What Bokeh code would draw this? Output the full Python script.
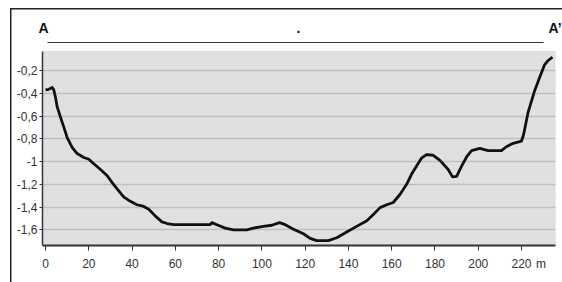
from bokeh.plotting import figure
from bokeh.models import Range1d, FixedTicker, BoxAnnotation, LinearAxis
from bokeh.embed import file_html
from bokeh.resources import INLINE

# Profile A - A' : distance (m) and elevation
dist = [0, 1.5, 3.1, 3.8, 4.6, 5.4, 6.9, 8.5, 10, 12.3,
        14.6, 17.7, 20, 22.3, 25.4, 28.5, 30.8, 33.1, 36.1, 39.2,
        42.3, 45.4, 47.7, 50.8, 53.8, 56.2, 59.2, 71.5, 76.1, 76.9,
        79.2, 83, 86.9, 93, 96.1, 100.7, 104.6, 108.1, 110.8, 114.6,
        119.2, 122.3, 125.4, 130.7, 134.6, 139.2, 143.8, 148.5, 151.5, 154.6,
        157.7, 160.7, 163.8, 166.9, 169.2, 171.5, 173.8, 176.1, 179.2, 182.3,
        186.1, 188.1, 190, 192.3, 194.6, 196.9, 200.7, 204.6, 210.7, 213,
        216.1, 220, 221, 223, 226.1, 228.4, 230.7, 232.3, 234.3]
elev = [-0.37, -0.365, -0.35, -0.37, -0.435, -0.52, -0.61, -0.70, -0.79, -0.875,
        -0.93, -0.965, -0.98, -1.02, -1.07, -1.125, -1.185, -1.24, -1.31, -1.35,
        -1.38, -1.395, -1.42, -1.48, -1.53, -1.545, -1.555, -1.555, -1.555, -1.537,
        -1.555, -1.585, -1.6, -1.6, -1.585, -1.57, -1.56, -1.537, -1.555, -1.595,
        -1.635, -1.675, -1.695, -1.695, -1.67, -1.62, -1.57, -1.52, -1.465, -1.405,
        -1.38, -1.36, -1.29, -1.20, -1.11, -1.04, -0.97, -0.94, -0.945, -0.99,
        -1.07, -1.135, -1.13, -1.04, -0.96, -0.905, -0.885, -0.905, -0.905, -0.87,
        -0.84, -0.82, -0.76, -0.57, -0.375, -0.26, -0.148, -0.112, -0.082]

x_ticks = [0, 20, 40, 60, 80, 100, 120, 140, 160, 180, 200, 220]
x_unit_pos = 229
x_unit_label = "m"
y_ticks = [-1.6, -1.4, -1.2, -1.0, -0.8, -0.6, -0.4, -0.2]
y_tick_labels = ["-1,6", "-1,4", "-1,2", "-1", "-0,8", "-0,6", "-0,4", "-0,2"]

# section end labels along the top line
sec_pos = [-0.92, 116.9, 235.5]
sec_labels = ["A", ".", "A’"]
sec_line = (0.92, 230.2)

x_lo, x_hi = -1.4, 235.7
y_lo, y_panel_top, y_hi = -1.738, -0.033, 0.046

FONT = "Liberation Sans"
INK = "#333333"

p = figure(width=562, height=282, output_backend="svg", toolbar_location=None,
           x_range=Range1d(x_lo, x_hi), y_range=Range1d(y_lo, y_hi),
           min_border_left=42, min_border_right=7, min_border_top=42, min_border_bottom=37)

p.border_fill_color = None
p.background_fill_color = None
p.outline_line_color = None
p.styles = {"background": "linear-gradient(#222,#222) 10px 8px / 1.5px 100% no-repeat, "
                          "linear-gradient(#222,#222) 10px 8px / 100% 1.5px no-repeat, white"}

# grey plotting panel
p.add_layout(BoxAnnotation(top=y_panel_top, fill_color="#e0e0e0", fill_alpha=1,
                           line_color="#a8a8a8", line_width=1, level="image"))

p.xgrid.grid_line_color = None
p.ygrid.grid_line_color = "#a0a0a0"
p.ygrid.grid_line_width = 1.5
p.ygrid.grid_line_dash = "1 1"

p.xaxis.ticker = FixedTicker(ticks=x_ticks + [x_unit_pos], minor_ticks=x_ticks)
p.xaxis.major_label_overrides = {x_unit_pos: x_unit_label}
p.yaxis.ticker = FixedTicker(ticks=y_ticks)
p.yaxis.major_label_overrides = {t: l for t, l in zip(y_ticks, y_tick_labels)}
p.yaxis.bounds = (y_lo, y_panel_top)

for ax in (p.xaxis[0], p.yaxis[0]):
    ax.axis_line_color = INK
    ax.major_label_text_font = FONT
    ax.major_label_text_font_size = "12px"
    ax.major_label_text_color = INK

p.xaxis.axis_line_width = 2
p.xaxis.major_tick_line_color = None
p.xaxis.minor_tick_line_color = INK
p.xaxis.minor_tick_in = 0
p.xaxis.minor_tick_out = 5
p.xaxis.major_tick_out = 5
p.xaxis.major_tick_in = 0
p.xaxis.major_label_standoff = 6

p.yaxis.axis_line_width = 1.5
p.yaxis.major_tick_line_color = INK
p.yaxis.minor_tick_line_color = None
p.yaxis.major_tick_in = 0
p.yaxis.major_tick_out = 3
p.yaxis.major_label_standoff = 2

top = LinearAxis(ticker=FixedTicker(ticks=sec_pos), bounds=sec_line,
                 major_label_overrides={k: v for k, v in zip(sec_pos, sec_labels)},
                 axis_line_color=INK, axis_line_width=1,
                 major_tick_line_color=None, minor_tick_line_color=None,
                 major_tick_in=0, major_tick_out=0,
                 major_label_text_font=FONT, major_label_text_font_size="14px",
                 major_label_text_font_style="bold", major_label_text_color="#111111",
                 major_label_text_align="right", major_label_standoff=7)
p.add_layout(top, "above")

p.line(dist, elev, line_color="#111111", line_width=2.8, line_join="round")

open("out.html", "w").write(file_html(p, INLINE))
